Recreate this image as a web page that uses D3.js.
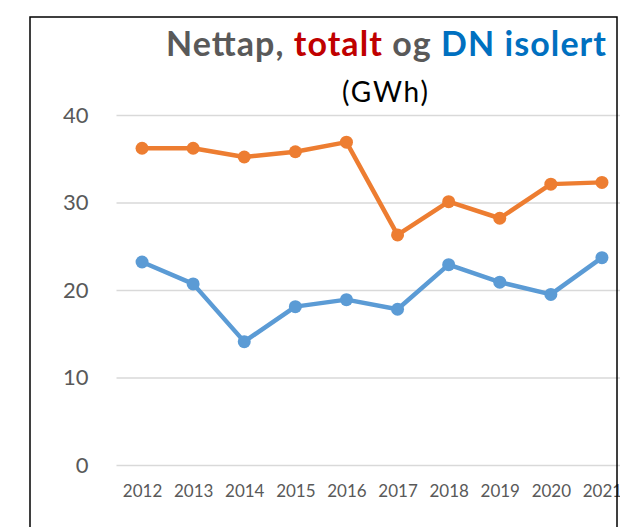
<!DOCTYPE html>
<html>
<head>
<meta charset="utf-8">
<script src="https://cdn.jsdelivr.net/npm/d3@7"></script>
<style>
  html, body { margin: 0; padding: 0; background: #fff; overflow: hidden; }
  svg { display: block; font-family: Lato, "Open Sans", sans-serif; }
</style>
</head>
<body>
<main></main>
<script>
// values (GWh)
let years = ['2012', '2013', '2014', '2015', '2016', '2017', '2018', '2019', '2020', '2021'];
let totalt = [36.2, 36.2, 35.2, 35.8, 36.9, 26.3, 30.1, 28.2, 32.1, 32.3];
let dnIsolert = [23.2, 20.7, 14.1, 18.1, 18.9, 17.8, 22.9, 20.9, 19.5, 23.7];
let yTicks = [0, 10, 20, 30, 40];

let width = 620;
let height = 527;

// plot area (it runs past the right edge, as in the original crop)
let margin = { top: 115, left: 116.5, bottom: 62, right: -7.5 };

let svg = d3.select('main')
  .append('svg')
  .attr('width', width)
  .attr('height', height);

let x = d3.scalePoint()
  .domain(years)
  .range([margin.left, width - margin.right])
  .padding(0.5);

let y = d3.scaleLinear()
  .domain([0, 40])
  .range([height - margin.bottom, margin.top]);

// gridlines + y labels
let yAxis = svg.append('g')
  .attr('transform', `translate(${margin.left},0)`)
  .call(d3.axisLeft(y).tickValues(yTicks).tickSize(-(width - margin.right - margin.left)).tickPadding(28));
yAxis.select('.domain').remove();
yAxis.selectAll('.tick line').attr('stroke', '#d9d9d9').attr('stroke-width', 1.5);
yAxis.selectAll('.tick text')
  .attr('fill', '#595959')
  .style('font-size', '22px')
  .style('font-family', 'Lato, sans-serif');

// x labels (the last one is cut by the frame, as in the original)
let xAxis = svg.append('g')
  .attr('transform', `translate(0,${height - margin.bottom})`)
  .call(d3.axisBottom(x).tickSize(0).tickPadding(20));
xAxis.select('.domain').remove();
xAxis.selectAll('.tick text')
  .attr('fill', '#595959')
  .style('font-size', '17px')
  .style('font-family', 'Lato, sans-serif');

let series = [
  { values: totalt, color: '#ED7D31' },
  { values: dnIsolert, color: '#5B9BD5' }
];

let line = d3.line()
  .x((d, i) => x(years[i]))
  .y(d => y(d));

series.forEach(s => {
  svg.append('path')
    .datum(s.values)
    .attr('fill', 'none')
    .attr('stroke', s.color)
    .attr('stroke-width', 4.5)
    .attr('stroke-linejoin', 'round')
    .attr('d', line);

  svg.append('g').selectAll('circle')
    .data(s.values)
    .enter().append('circle')
    .attr('cx', (d, i) => x(years[i]))
    .attr('cy', d => y(d))
    .attr('r', 6.5)
    .attr('fill', s.color);
});

// title
let title = svg.append('text')
  .attr('x', 166)
  .attr('y', 56)
  .attr('textLength', 440)
  .attr('lengthAdjust', 'spacing')
  .style('font-size', '34px')
  .style('font-weight', 'bold');
title.append('tspan').attr('fill', '#595959').text('Nettap, ');
title.append('tspan').attr('fill', '#C00000').text('totalt');
title.append('tspan').attr('fill', '#595959').text(' og ');
title.append('tspan').attr('fill', '#0070C0').text('DN isolert');

svg.append('text')
  .attr('x', 342)
  .attr('y', 102)
  .attr('textLength', 86)
  .attr('lengthAdjust', 'spacing')
  .attr('fill', '#000')
  .style('font-size', '28px')
  .text('(GWh)');

// chart frame
svg.append('rect')
  .attr('x', 30)
  .attr('y', 17)
  .attr('width', 587)
  .attr('height', 540)
  .attr('fill', 'none')
  .attr('stroke', '#000')
  .attr('stroke-width', 1.5);
</script>
</body>
</html>
